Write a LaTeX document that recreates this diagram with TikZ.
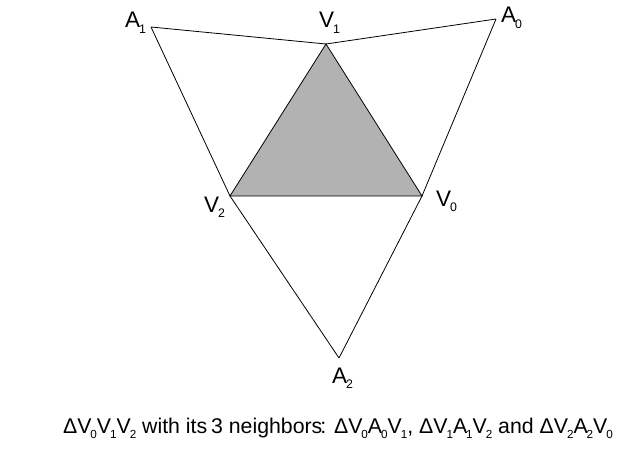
\documentclass[tikz,border=0pt]{standalone}
\usepackage{fontspec}
\setmainfont{Liberation Sans}
\usepackage{graphicx}
\definecolor{facegray}{RGB}{178,178,178}
\newcommand{\lowsub}[1]{\kern-0.05em\raisebox{-0.26em}{\scalebox{0.55}{#1}}}
\begin{document}
\begin{tikzpicture}[x=1pt,y=-1pt,
  edge/.style={draw=black,line width=0.8pt},
  face/.style={fill=facegray,draw=black,line width=0.8pt},
  lbl/.style={anchor=base west,inner sep=0pt,font=\fontsize{22.5}{22.5}\selectfont},
  captext/.style={anchor=base,inner sep=0pt,font=\fontsize{21.3}{21.3}\selectfont}]
\useasboundingbox (0,0) rectangle (636,449);
\coordinate (A1) at (151,27);
\coordinate (V1) at (326,44);
\coordinate (A0) at (496,19);
\coordinate (V2) at (230,196);
\coordinate (V0) at (422,196);
\coordinate (A2) at (339,358);
\path[face] (V0) -- (V1) -- (V2) -- cycle;
\draw[edge] (A1) -- (V1);
\draw[edge] (V1) -- (A0);
\draw[edge] (A1) -- (V2);
\draw[edge] (V2) -- (A2);
\draw[edge] (A0) -- (V0);
\draw[edge] (V0) -- (A2);
\node[lbl] (lA1) at (125,28) {A\lowsub{1}};
\node[lbl] (lV1) at (319,28) {V\lowsub{1}};
\node[lbl] (lA0) at (501,23) {A\lowsub{0}};
\node[lbl] (lV2) at (204,212) {V\lowsub{2}};
\node[lbl] (lV0) at (436,206) {V\lowsub{0}};
\node[lbl] (lA2) at (332,383) {A\lowsub{2}};
\node[captext] (caption) at (338,433) {ΔV\lowsub{0}V\lowsub{1}V\lowsub{2} with its\kern-0.1em{} 3 neighbors\kern-0.1em: ΔV\lowsub{0}A\lowsub{0}V\lowsub{1}, ΔV\lowsub{1}A\lowsub{1}V\lowsub{2} and ΔV\lowsub{2}A\lowsub{2}V\lowsub{0}};
\end{tikzpicture}
\end{document}
